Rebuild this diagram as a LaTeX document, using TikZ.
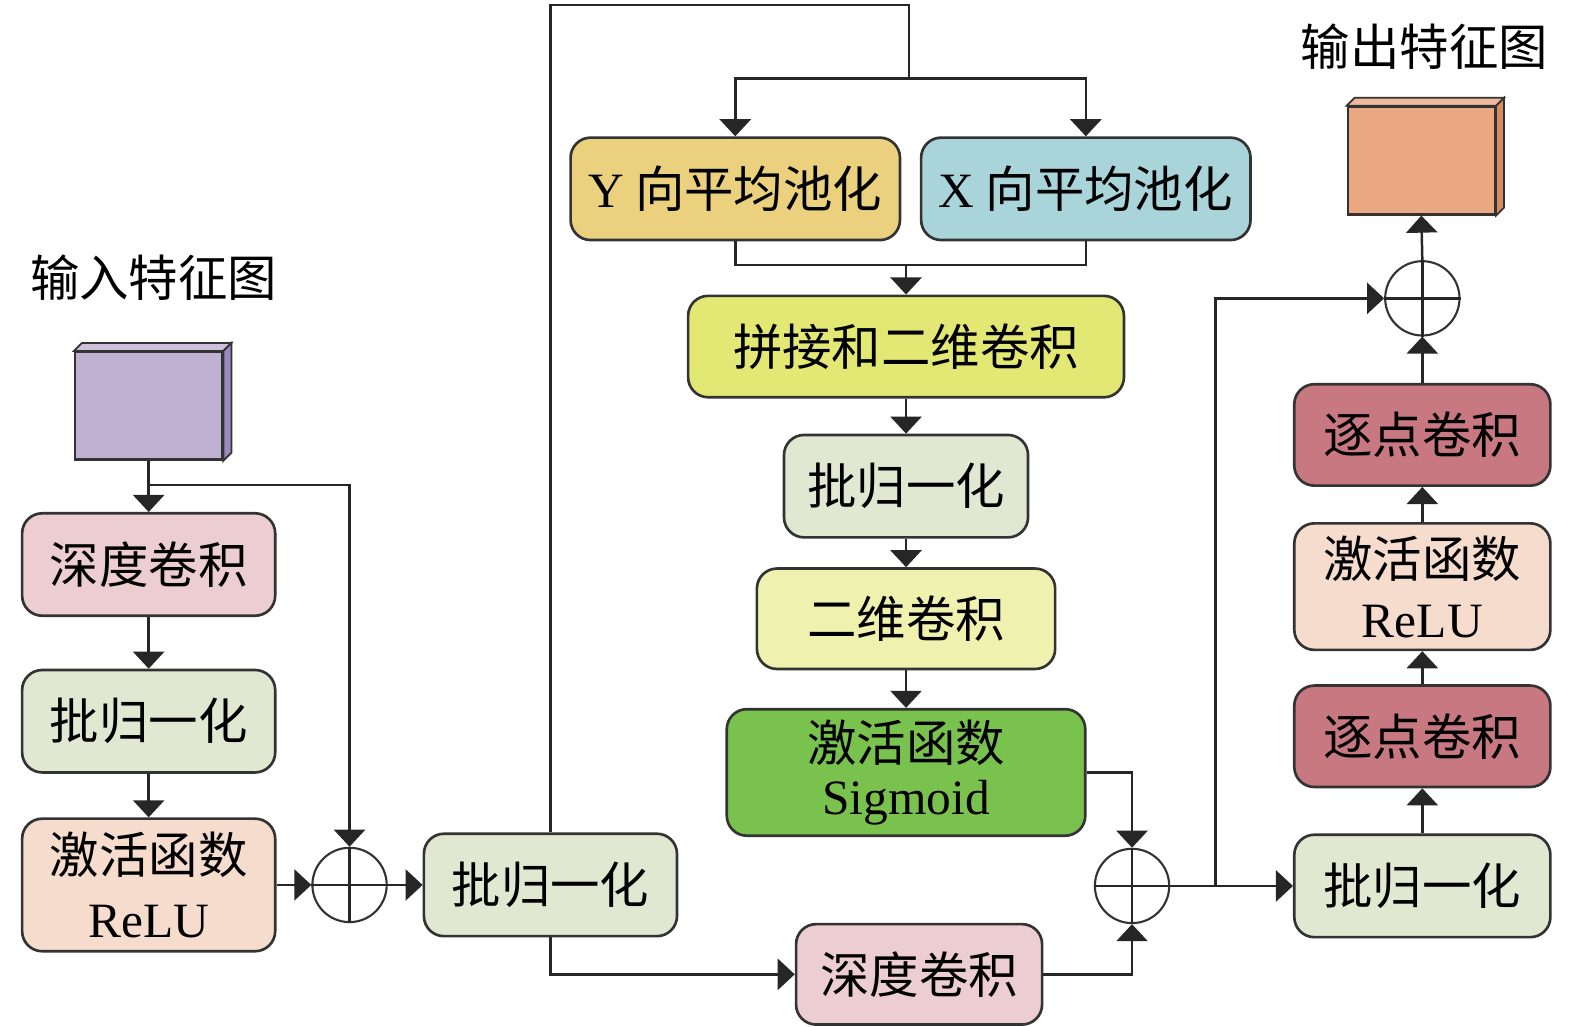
\documentclass[tikz,border=0pt]{standalone}
\usepackage{fontspec}
\setmainfont{Liberation Serif}
\newfontfamily\cjk{Noto Sans CJK SC}
\usetikzlibrary{arrows.meta,calc}
\newcommand\bigf{\fontsize{28}{34}\selectfont}
\definecolor{cpink}{HTML}{EBCDD2}
\definecolor{cgreen}{HTML}{E0E8D2}
\definecolor{cpeach}{HTML}{F5DCCD}
\definecolor{cgold}{HTML}{EBD07E}
\definecolor{cteal}{HTML}{A8D4DA}
\definecolor{cyel}{HTML}{E3E874}
\definecolor{cpale}{HTML}{EFF2AE}
\definecolor{csig}{HTML}{7AC24E}
\definecolor{crose}{HTML}{C87880}
\definecolor{cpur}{HTML}{C0B0D2}
\definecolor{cpurd}{HTML}{9A88BE}
\definecolor{corg}{HTML}{EBA882}
\definecolor{corgd}{HTML}{D88A60}
\begin{document}
\begin{tikzpicture}[x=0.02cm,y=-0.02cm,
  box/.style={draw=black!80, line width=1.5pt, rounded corners=0.4cm, align=center, font=\bigf\cjk, inner sep=0pt},
  conn/.style={line width=1.4pt, draw=black!85},
  arr/.style={conn, -{Triangle[width=0.62cm,length=0.34cm]}},
  sumc/.style={circle, draw=black!80, line width=1.2pt, minimum size=1.48cm, inner sep=0pt},
  cube/.style={draw=black!80, line width=1.3pt, inner sep=0pt, minimum width=2.93cm, minimum height=2.14cm},
  lab/.style={font=\bigf\cjk, inner sep=0pt}
]
\useasboundingbox (0,0) rectangle (1568,1022);

% labels
\node[lab] (lin) at (153,276) {输入特征图};
\node[lab] (lout) at (1418,46) {输出特征图};

% cubes
\node[cube, fill=cpur] (incube) at (148,404) {};
\draw[fill=cpur!80!white, draw=black!80, line width=1pt] (incube.north west) -- ([shift={(8,-8)}]incube.north west) -- ([shift={(8,-8)}]incube.north east) -- (incube.north east) -- cycle;
\draw[fill=cpurd, draw=black!80, line width=1pt] (incube.north east) -- ([shift={(8,-8)}]incube.north east) -- ([shift={(8,-8)}]incube.south east) -- (incube.south east) -- cycle;

\node[cube, fill=corg] (outcube) at (1415,160) {};
\draw[fill=corg!80!white, draw=black!80, line width=1pt] (outcube.north west) -- ([shift={(8,-8)}]outcube.north west) -- ([shift={(8,-8)}]outcube.north east) -- (outcube.north east) -- cycle;
\draw[fill=corgd, draw=black!80, line width=1pt] (outcube.north east) -- ([shift={(8,-8)}]outcube.north east) -- ([shift={(8,-8)}]outcube.south east) -- (outcube.south east) -- cycle;

% left column
\node[box, fill=cpink, minimum width=5.04cm, minimum height=2.04cm] (d1) at (148,562) {深度卷积};
\node[box, fill=cgreen, minimum width=5.04cm, minimum height=2.04cm] (b1) at (148,718) {批归一化};
\node[box, fill=cpeach, minimum width=5.04cm, minimum height=2.64cm] (r1) at (148,881) {激活函数\\[2pt]{\rmfamily ReLU}};
\node[sumc] (o1) at (348,881) {};
\node[box, fill=cgreen, minimum width=5.04cm, minimum height=2.04cm] (b2) at (548,881) {批归一化};

% middle column
\node[box, fill=cgold, minimum width=6.56cm, minimum height=2.04cm] (yp) at (732,188) {{\rmfamily Y} 向平均池化};
\node[box, fill=cteal, minimum width=6.56cm, minimum height=2.04cm] (xp) at (1081,188) {{\rmfamily X} 向平均池化};
\node[box, fill=cyel, minimum width=8.68cm, minimum height=2.02cm] (cat) at (902,345) {拼接和二维卷积};
\node[box, fill=cgreen, minimum width=4.86cm, minimum height=2.04cm] (b3) at (902,484) {批归一化};
\node[box, fill=cpale, minimum width=5.94cm, minimum height=2.0cm] (c2) at (902,616) {二维卷积};
\node[box, fill=csig, minimum width=7.14cm, minimum height=2.52cm] (sg) at (902,769) {激活函数\\[-4pt]{\rmfamily Sigmoid}};
\node[box, fill=cpink, minimum width=4.9cm, minimum height=2.0cm] (d2) at (915,970) {深度卷积};
\node[sumc] (o2) at (1127,882) {};

% right column
\node[box, fill=cgreen, minimum width=5.1cm, minimum height=2.04cm] (b4) at (1416,882) {批归一化};
\node[box, fill=crose, minimum width=5.1cm, minimum height=2.02cm] (pw1) at (1416,733) {逐点卷积};
\node[box, fill=cpeach, minimum width=5.1cm, minimum height=2.52cm] (r2) at (1416,584) {激活函数\\[0pt]{\rmfamily ReLU}};
\node[box, fill=crose, minimum width=5.1cm, minimum height=2.02cm] (pw2) at (1416,433) {逐点卷积};
\node[sumc] (o3) at (1416,297) {};

% plus signs
\foreach \c in {o1,o2,o3}{
  \draw[conn] (\c.north) -- (\c.south);
  \draw[conn] (\c.west) -- (\c.east);
}

% coordinates
\coordinate (s1) at (148,483);
\coordinate (tc) at (905,5);
\coordinate (t1) at (905,78);
\coordinate (j2) at (902,264);
\coordinate (br) at (1210,882);

% left connectors
\draw[arr] (incube.south) -- (d1.north);
\draw[arr] (s1) -| (o1.north);
\draw[arr] (d1.south) -- (b1.north);
\draw[arr] (b1.south) -- (r1.north);
\draw[arr] (r1.east) -- (o1.west);
\draw[arr] (o1.east) -- (b2.west);

% top loop
\draw[conn] (b2.north) |- (tc) -- (t1);
\draw[arr] (t1) -| (yp.north);
\draw[arr] (t1) -| (xp.north);
\draw[conn] (yp.south) |- (j2);
\draw[conn] (xp.south) |- (j2);
\draw[arr] (j2) -- (cat.north);
\draw[arr] (cat.south) -- (b3.north);
\draw[arr] (b3.south) -- (c2.north);
\draw[arr] (c2.south) -- (sg.north);
\draw[arr] (sg.east) -| (o2.north);

% bottom path
\draw[arr] (b2.south) |- (d2.west);
\draw[arr] (d2.east) -| (o2.south);

% right
\draw[arr] (o2.east) -- (b4.west);
\draw[arr] (br) |- (o3.west);
\draw[arr] (b4.north) -- (pw1.south);
\draw[arr] (pw1.north) -- (r2.south);
\draw[arr] (r2.north) -- (pw2.south);
\draw[arr] (pw2.north) -- (o3.south);
\draw[arr] (o3.north) -- (outcube.south);
\end{tikzpicture}
\end{document}
